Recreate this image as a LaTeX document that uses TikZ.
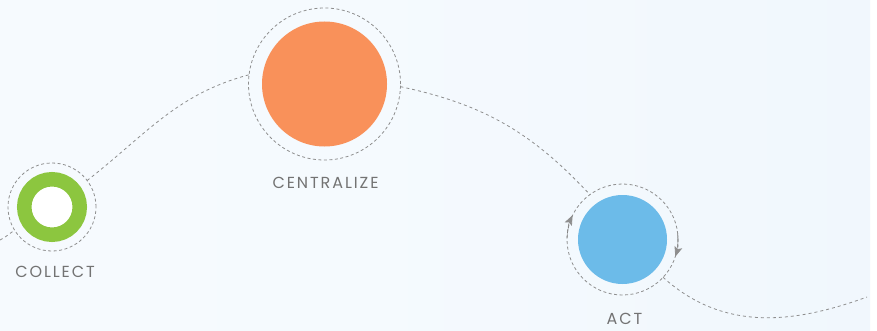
\documentclass[tikz,border=0pt]{standalone}
\usepackage{fontspec}
\setmainfont{Poppins}
\newfontfamily\lblfont[LetterSpace=12]{Poppins}
\usetikzlibrary{arrows.meta}
\definecolor{bgL}{HTML}{F8FBFE}
\definecolor{bgM}{HTML}{F5FAFE}
\definecolor{bgR}{HTML}{EDF5FC}
\definecolor{grn}{HTML}{8CC63F}
\definecolor{org}{HTML}{F9915A}
\definecolor{blu}{HTML}{6CBBE9}
\definecolor{dsh}{HTML}{8E8E8E}
\definecolor{tipc}{HTML}{767676}
\definecolor{txt}{HTML}{737373}
\pgfdeclarehorizontalshading{bgshade}{100bp}{color(0bp)=(bgL); color(45bp)=(bgM); color(100bp)=(bgR)}
\tikzset{
  ringdash/.style={circle, draw=dsh, line width=0.8pt, dash pattern=on 3pt off 2.5pt, inner sep=0pt, outer sep=0pt},
  link/.style={draw=dsh, line width=0.8pt, dash pattern=on 3pt off 3pt},
  lbl/.style={text=txt, font=\lblfont\fontsize{16}{18}\selectfont, inner sep=0pt},
  tip/.style={-{Stealth[length=10pt,width=8pt,inset=2pt]}, draw=dsh, fill=tipc, line width=0.8pt, dash pattern=on 3pt off 2.5pt}
}
\begin{document}
\begin{tikzpicture}[x=1pt,y=1pt]
\useasboundingbox (0,0) rectangle (877,330);
\fill[white] (0,0) rectangle (877,330);
\shade[shading=bgshade] (0,0) rectangle (870,330);
% nodes
\node[ringdash, minimum size=88pt] (collectring) at (52,123) {};
\node[circle, draw=grn, line width=14.5pt, fill=white, minimum size=55.5pt, inner sep=0pt] (collect) at (52,123) {};
\node[lbl] (collectlbl) at (55,58) {COLLECT};

\node[ringdash, minimum size=152pt] (centralring) at (324.5,246) {};
\node[circle, fill=org, minimum size=125pt, inner sep=0pt] (centralize) at (324.5,246) {};
\node[lbl] (centrallbl) at (325.5,146.7) {CENTRALIZE};

\node[ringdash, minimum size=111pt] (actring) at (622.5,90.5) {};
\node[circle, fill=blu, minimum size=89pt, inner sep=0pt] (act) at (622.5,90.5) {};
\node[lbl] (actlbl) at (624.5,11) {ACT};

\coordinate (lstart) at (0,90);
\coordinate (rend) at (867,33);
\coordinate (actc) at (622.5,90.5);

% connectors
\draw[link] (lstart) to[out=25,in=210] (collectring.212);
\draw[link] (collectring.37) to[out=38,in=195] (centralring.173);
\draw[link] (centralring.-2) to[out=-12,in=133] (actring.126);
\draw[link] (actring.-43) to[out=-42,in=200] (rend);

% rotation arrows
\draw[tip] (actc) ++(178:55.5) arc[start angle=178, end angle=154, radius=55.5];
\draw[tip] (actc) ++(6:55.5) arc[start angle=6, end angle=-18, radius=55.5];
\end{tikzpicture}
\end{document}
